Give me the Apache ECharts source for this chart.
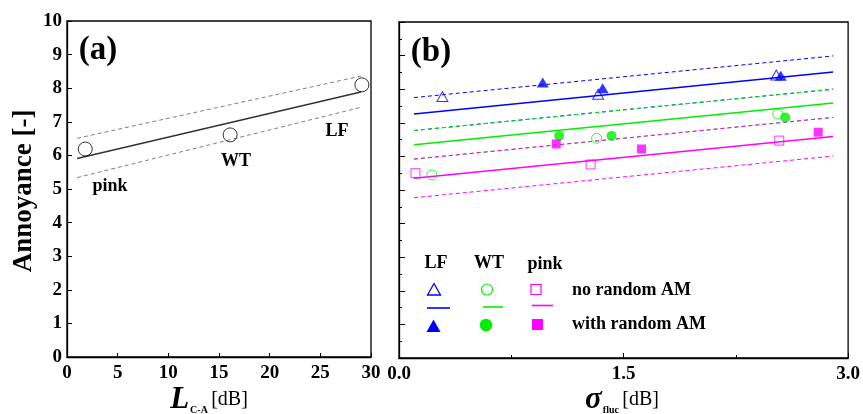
<!DOCTYPE html>
<html>
<head>
<meta charset="utf-8">
<script src="https://cdn.jsdelivr.net/npm/echarts@6/dist/echarts.min.js"></script>
<style>
html,body{margin:0;padding:0;background:#fff;}
#chart{width:863px;height:414px;}
</style>
</head>
<body>
<div id="chart"></div>
<script>
// ---------- Panel (a) data ----------
const aPointX = [1.8, 16.1, 29.1];
const aPointY = [6.19, 6.61, 8.10];
const aPointNames = ['pink', 'WT', 'LF'];
const aFitX = [1, 29];
const aFitMid = [5.91, 7.89];
const aFitUpper = [6.51, 8.36];
const aFitLower = [5.34, 7.43];
const aXTicks = [0, 5, 10, 15, 20, 25, 30];
const yTicks = [0, 1, 2, 3, 4, 5, 6, 7, 8, 9, 10];

// ---------- Panel (b) data ----------
const bXTicks = ['0.0', '1.5', '3.0'];
const lfOpenX = [0.29, 1.33, 2.52];
const lfOpenY = [7.78, 7.85, 8.42];
const lfFilledX = [0.96, 1.36, 2.55];
const lfFilledY = [8.20, 8.03, 8.40];
const wtOpenX = [0.22, 1.32, 2.53];
const wtOpenY = [5.45, 6.54, 7.26];
const wtFilledX = [1.07, 1.42, 2.58];
const wtFilledY = [6.61, 6.61, 7.16];
const pinkOpenX = [0.11, 1.28, 2.54];
const pinkOpenY = [5.50, 5.76, 6.47];
const pinkFilledX = [1.05, 1.62, 2.80];
const pinkFilledY = [6.37, 6.22, 6.72];
const bFitX = [0.1, 2.9];
const lfFit = [7.26, 8.51];
const lfUpper = [7.75, 8.99];
const lfLower = [6.77, 8.00];
const wtFit = [6.35, 7.59];
const wtUpper = [6.77, 8.00];
const wtLower = [5.92, 7.16];
const pinkFit = [5.35, 6.59];
const pinkUpper = [5.92, 7.16];
const pinkLower = [4.77, 6.01];

const FONT = "'Liberation Serif', 'Times New Roman', serif";
const BLUE = '#0000ff', GREEN = '#00ee00', PINK = '#ff00ff';
const zip = (xs, ys) => xs.map((x, i) => [x, ys[i]]);

function fitLine(xAxisIndex, xs, ys, color, dashed, width) {
  return {
    type: 'line', xAxisIndex: xAxisIndex, yAxisIndex: xAxisIndex,
    data: zip(xs, ys), showSymbol: false, symbol: 'none', silent: true,
    lineStyle: { color: color, width: width || 1, type: dashed ? [4, 3] : 'solid' },
    z: 2
  };
}
function scatter(xAxisIndex, xs, ys, symbol, size, color, filled, z) {
  return {
    type: 'scatter', xAxisIndex: xAxisIndex, yAxisIndex: xAxisIndex,
    data: zip(xs, ys), symbol: symbol, symbolSize: size, silent: true,
    itemStyle: filled ? { color: color, borderWidth: 0 }
                      : { color: 'rgba(0,0,0,0)', borderColor: color, borderWidth: 1 },
    z: z || 3
  };
}

const axisCommon = {
  axisLine: { lineStyle: { color: '#000', width: 1.3 } },
  splitLine: { show: false },
};

const chart = echarts.init(document.getElementById('chart'));
const option = {
  backgroundColor: '#fff',
  animation: false,
  grid: [
    { left: 67, top: 21, width: 304, height: 336, show: true, borderColor: '#000', borderWidth: 1.3, backgroundColor: 'transparent' },
    { left: 399, top: 22, width: 455, height: 336, show: true, borderColor: '#000', borderWidth: 1.3, backgroundColor: 'transparent' }
  ],
  xAxis: [
    Object.assign({}, axisCommon, {
      gridIndex: 0, type: 'value', min: aXTicks[0], max: aXTicks[aXTicks.length - 1], interval: 5,
      axisTick: { inside: true, length: 4, lineStyle: { color: '#000' } },
      axisLabel: { margin: 7, color: '#000', fontFamily: FONT, fontWeight: 'bold', fontSize: 19 }
    }),
    Object.assign({}, axisCommon, {
      gridIndex: 1, type: 'value', min: 0, max: 3, interval: 1.5,
      axisTick: { inside: true, length: 5, lineStyle: { color: '#000' } },
      minorTick: { show: true, splitNumber: 2, length: 3, lineStyle: { color: '#000' } },
      axisLabel: { margin: 7, color: '#000', fontFamily: FONT, fontWeight: 'bold', fontSize: 19,
        formatter: v => bXTicks[Math.round(v / 1.5)] }
    })
  ],
  yAxis: [
    Object.assign({}, axisCommon, {
      gridIndex: 0, type: 'value', min: yTicks[0], max: yTicks[yTicks.length - 1], interval: 1,
      axisTick: { inside: true, length: 5, lineStyle: { color: '#000' } },
      axisLabel: { margin: 5, color: '#000', fontFamily: FONT, fontWeight: 'bold', fontSize: 19 }
    }),
    Object.assign({}, axisCommon, {
      gridIndex: 1, type: 'value', min: 0, max: 10, interval: 1,
      axisTick: { inside: true, length: 6, lineStyle: { color: '#000' } },
      minorTick: { show: true, splitNumber: 2, length: 3, lineStyle: { color: '#000' } },
      axisLabel: { show: false }
    })
  ],
  series: [
    fitLine(0, aFitX, aFitUpper, '#808080', true),
    fitLine(0, aFitX, aFitLower, '#808080', true),
    fitLine(0, aFitX, aFitMid, '#333', false, 1.5),
    scatter(0, aPointX, aPointY, 'circle', 14, '#000', false),

    fitLine(1, bFitX, lfUpper, BLUE, true),
    fitLine(1, bFitX, lfLower, BLUE, true),
    fitLine(1, bFitX, wtUpper, GREEN, true),
    fitLine(1, bFitX, wtLower, GREEN, true),
    fitLine(1, bFitX, pinkUpper, PINK, true),
    fitLine(1, bFitX, pinkLower, PINK, true),
    fitLine(1, bFitX, lfFit, BLUE, false, 1.5),
    fitLine(1, bFitX, wtFit, GREEN, false, 1.5),
    fitLine(1, bFitX, pinkFit, PINK, false, 1.5),

    scatter(1, lfOpenX, lfOpenY, 'triangle', [11, 10], BLUE, false),
    scatter(1, wtOpenX, wtOpenY, 'circle', 10, GREEN, false),
    scatter(1, pinkOpenX, pinkOpenY, 'rect', 9, PINK, false),
    scatter(1, lfFilledX, lfFilledY, 'triangle', [12, 10], BLUE, true, 4),
    scatter(1, wtFilledX, wtFilledY, 'circle', 10, GREEN, true, 4),
    scatter(1, pinkFilledX, pinkFilledY, 'rect', 9, PINK, true, 4)
  ],
  graphic: [
    // axis titles
    { type: 'text', x: 24, y: 191, rotation: Math.PI / 2,
      style: { text: 'Annoyance [-]', fill: '#000', font: "bold 27px " + FONT, align: 'center', verticalAlign: 'middle' } },
    { type: 'text', x: 209, y: 400,
      style: { text: '{L|L}{s|C-A} {u|[dB]}', fill: '#000', align: 'center', verticalAlign: 'middle',
        rich: {
          L: { font: "italic bold 31px " + FONT, fill: '#000' },
          s: { font: "bold 10px " + FONT, fill: '#000', verticalAlign: 'bottom', padding: [0, 0, 0, 1] },
          u: { font: "20px " + FONT, fill: '#000' }
        } } },
    { type: 'text', x: 622, y: 400,
      style: { text: '{L|σ}{s|fluc} {u|[dB]}', fill: '#000', align: 'center', verticalAlign: 'middle',
        rich: {
          L: { font: "italic bold 31px " + FONT, fill: '#000' },
          s: { font: "bold 10px " + FONT, fill: '#000', verticalAlign: 'bottom', padding: [0, 0, 0, 1] },
          u: { font: "20px " + FONT, fill: '#000' }
        } } },
    // panel labels
    { type: 'text', x: 98, y: 50, style: { text: '(a)', fill: '#000', font: "bold 33px " + FONT, align: 'center', verticalAlign: 'middle' } },
    { type: 'text', x: 431, y: 52, style: { text: '(b)', fill: '#000', font: "bold 33px " + FONT, align: 'center', verticalAlign: 'middle' } },
    // annotations panel (a)
    { type: 'text', x: 110, y: 186, style: { text: aPointNames[0], fill: '#000', font: "bold 18px " + FONT, align: 'center', verticalAlign: 'middle' } },
    { type: 'text', x: 236, y: 161, style: { text: aPointNames[1], fill: '#000', font: "bold 18px " + FONT, align: 'center', verticalAlign: 'middle' } },
    { type: 'text', x: 337, y: 131, style: { text: aPointNames[2], fill: '#000', font: "bold 18px " + FONT, align: 'center', verticalAlign: 'middle' } },
    // legend panel (b)
    { type: 'text', x: 436, y: 263, style: { text: 'LF', fill: '#000', font: "bold 18px " + FONT, align: 'center', verticalAlign: 'middle' } },
    { type: 'text', x: 489, y: 263, style: { text: 'WT', fill: '#000', font: "bold 18px " + FONT, align: 'center', verticalAlign: 'middle' } },
    { type: 'text', x: 545, y: 264, style: { text: 'pink', fill: '#000', font: "bold 18px " + FONT, align: 'center', verticalAlign: 'middle' } },
    { type: 'text', x: 572, y: 290, style: { text: 'no random AM', fill: '#000', font: "bold 18px " + FONT, align: 'left', verticalAlign: 'middle' } },
    { type: 'text', x: 572, y: 324, style: { text: 'with random AM', fill: '#000', font: "bold 18px " + FONT, align: 'left', verticalAlign: 'middle' } },
    { type: 'polygon', shape: { points: [[434, 283.5], [440.5, 295], [427.5, 295]] }, style: { fill: 'none', stroke: BLUE, lineWidth: 1.3 } },
    { type: 'circle', shape: { cx: 487, cy: 289.5, r: 5.5 }, style: { fill: 'none', stroke: GREEN, lineWidth: 1.2 } },
    { type: 'rect', shape: { x: 531, y: 284.5, width: 10, height: 10 }, style: { fill: 'none', stroke: PINK, lineWidth: 1.2 } },
    { type: 'line', shape: { x1: 427, y1: 308, x2: 450, y2: 308 }, style: { stroke: BLUE, lineWidth: 1.6 } },
    { type: 'line', shape: { x1: 483, y1: 307, x2: 503, y2: 307 }, style: { stroke: GREEN, lineWidth: 1.6 } },
    { type: 'line', shape: { x1: 532, y1: 305.5, x2: 553, y2: 305.5 }, style: { stroke: PINK, lineWidth: 1.6 } },
    { type: 'polygon', shape: { points: [[433.5, 319.5], [440.5, 332], [426.5, 332]] }, style: { fill: BLUE } },
    { type: 'circle', shape: { cx: 486, cy: 325, r: 6.3 }, style: { fill: GREEN } },
    { type: 'rect', shape: { x: 532, y: 319, width: 11, height: 11 }, style: { fill: PINK } }
  ]
};
chart.setOption(option);
</script>
</body>
</html>
